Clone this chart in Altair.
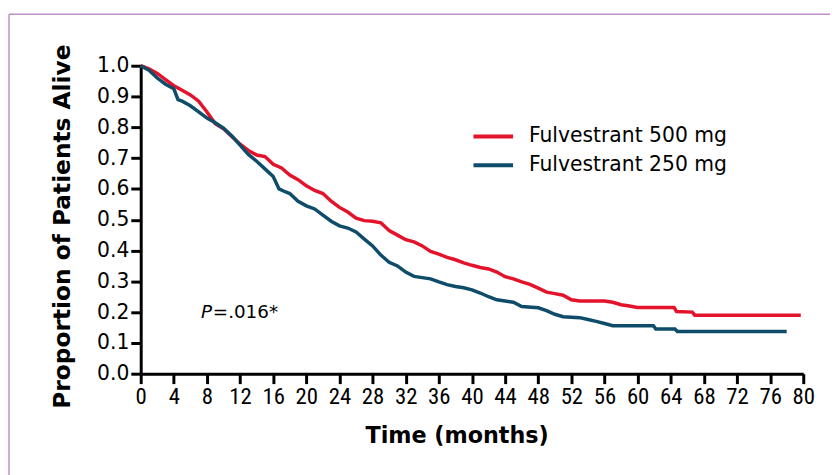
import altair as alt
import pandas as pd

# ---- data ----
t_500 = [0, 1, 2, 3, 4, 5, 6, 7, 8, 9, 10, 11, 12, 13, 14, 15, 16, 17, 18, 19,
         20, 21, 22, 23, 24, 25, 26, 27, 28, 29, 30, 31, 32, 33, 34, 35, 36, 37, 38, 39,
         40, 41, 42, 43, 44, 45, 46, 47, 48, 49, 50, 51, 52, 53, 54, 55, 56, 57, 58, 59,
         60, 64.4, 64.7, 66.6, 66.9, 79.7]
s_500 = [1.0, 0.99, 0.975, 0.955, 0.935, 0.92, 0.905, 0.885, 0.85, 0.812,
         0.795, 0.77, 0.745, 0.725, 0.71, 0.705, 0.68, 0.668, 0.645, 0.63,
         0.61, 0.595, 0.585, 0.56, 0.54, 0.525, 0.505, 0.497, 0.495, 0.49,
         0.465, 0.45, 0.435, 0.428, 0.415, 0.397, 0.388, 0.378, 0.37, 0.36,
         0.352, 0.345, 0.34, 0.33, 0.315, 0.308, 0.298, 0.29, 0.278, 0.265,
         0.26, 0.255, 0.24, 0.236, 0.236, 0.236, 0.236, 0.232, 0.224, 0.22,
         0.215, 0.215, 0.202, 0.2, 0.19, 0.19]

t_250 = [0, 1, 2, 3, 4, 4.5, 5, 6, 7, 8, 9, 10, 11, 12, 13, 14, 15, 16, 16.7, 17.5,
         18, 19, 20, 21, 22, 23, 24, 25, 26, 27, 28, 29, 30, 31, 32, 33, 34, 35, 36, 37,
         38, 39, 40, 41, 42, 43, 44, 45, 46, 48, 49, 50, 51, 53, 54, 55, 56, 57,
         61.9, 62.2, 64.5, 64.8, 78]
s_250 = [1.0, 0.985, 0.96, 0.94, 0.925, 0.89, 0.885, 0.87, 0.85, 0.83,
         0.815, 0.797, 0.772, 0.742, 0.712, 0.69, 0.665, 0.64, 0.6, 0.59,
         0.585, 0.56, 0.545, 0.535, 0.515, 0.495, 0.48, 0.473, 0.46, 0.437,
         0.415, 0.385, 0.362, 0.35, 0.33, 0.316, 0.312, 0.308, 0.298, 0.289,
         0.283, 0.279, 0.272, 0.262, 0.25, 0.24, 0.236, 0.232, 0.218, 0.214,
         0.205, 0.193, 0.185, 0.182, 0.176, 0.17, 0.163, 0.156,
         0.156, 0.145, 0.145, 0.137, 0.137]

series_names = ["Fulvestrant 500 mg", "Fulvestrant 250 mg"]
series_colors = ["#e3132c", "#0f4c6a"]
x_ticks = list(range(0, 81, 4))
y_ticks = [round(i * 0.1, 1) for i in range(11)]

df = pd.concat([
    pd.DataFrame({"t": t_500, "s": s_500, "group": series_names[0]}),
    pd.DataFrame({"t": t_250, "s": s_250, "group": series_names[1]}),
])

W, H = 669, 311

x_enc = alt.X("t:Q", scale=alt.Scale(domain=[0, 80], nice=False, zero=True),
              axis=alt.Axis(values=x_ticks, title="Time (months)", grid=False,
                            labelOverlap=False, labelFlush=False,
                            labelFont="Liberation Sans Narrow, Roboto Condensed, Roboto",
                            labelFontSize=23, labelPadding=2, labelColor="black",
                            titleFont="DejaVu Sans", titleFontSize=22.5, titleFontWeight="bold",
                            titleX=319, titleY=62, titleBaseline="middle", titleAlign="center",
                            titleColor="black"))
y_enc = alt.Y("s:Q", scale=alt.Scale(domain=[0, 1], nice=False),
              axis=alt.Axis(values=y_ticks, format=".1f", title="Proportion of Patients Alive",
                            grid=False, labelOverlap=False, labelFlush=False,
                            labelFont="DejaVu Sans", labelFontSize=20.5,
                            labelPadding=2, labelColor="black",
                            titleFont="DejaVu Sans", titleFontSize=23.5, titleFontWeight="bold",
                            titleX=-79, titleY=162, titleAngle=270, titleBaseline="middle",
                            titleAlign="center", titleColor="black"))

lines = alt.Chart(df).mark_line(interpolate="linear", strokeWidth=3.5).encode(
    x=x_enc,
    y=y_enc,
    color=alt.Color("group:N",
                    scale=alt.Scale(domain=series_names, range=series_colors),
                    legend=alt.Legend(title=None, orient="none", legendX=334, legendY=57,
                                      symbolType="stroke", symbolSize=1600,
                                      symbolStrokeWidth=4, labelFont="DejaVu Sans",
                                      labelFontSize=20.5, labelColor="black", labelLimit=400,
                                      labelOffset=14, rowPadding=0, clipHeight=29,
                                      padding=0)),
    order="t:Q",
)

ann = pd.DataFrame({"t": [7.27], "s": [0.199]})
p_txt = alt.Chart(ann).mark_text(text="P", font="DejaVu Sans", fontSize=18.5, fontStyle="italic",
                                 align="left", baseline="middle", color="black").encode(
    x=x_enc, y=y_enc)
p_val = alt.Chart(ann).mark_text(text="=.016*", font="DejaVu Sans", fontSize=18.5, dx=12,
                                 align="left", baseline="middle", color="black").encode(
    x=x_enc, y=y_enc)

frame = alt.Data(values=[{}])
top_border = alt.Chart(frame).mark_rule(color="#c090c8", strokeWidth=1.5).encode(
    x=alt.value(-133), x2=alt.value(700), y=alt.value(-52))
left_border = alt.Chart(frame).mark_rule(color="#c090c8", strokeWidth=1.5).encode(
    x=alt.value(-133), y=alt.value(-52), y2=alt.value(420))

chart = alt.layer(lines, p_txt, p_val, top_border, left_border).properties(
    width=W, height=H,
    autosize=alt.AutoSizeParams(type="none"),
    padding={"left": 134, "top": 56, "right": 27, "bottom": 100},
).configure_view(stroke=None).configure_axis(
    domainColor="black", domainWidth=3, tickColor="black", tickWidth=3, tickSize=10,
)

chart.save("out.html", embed_options={"renderer": "svg", "actions": False})
